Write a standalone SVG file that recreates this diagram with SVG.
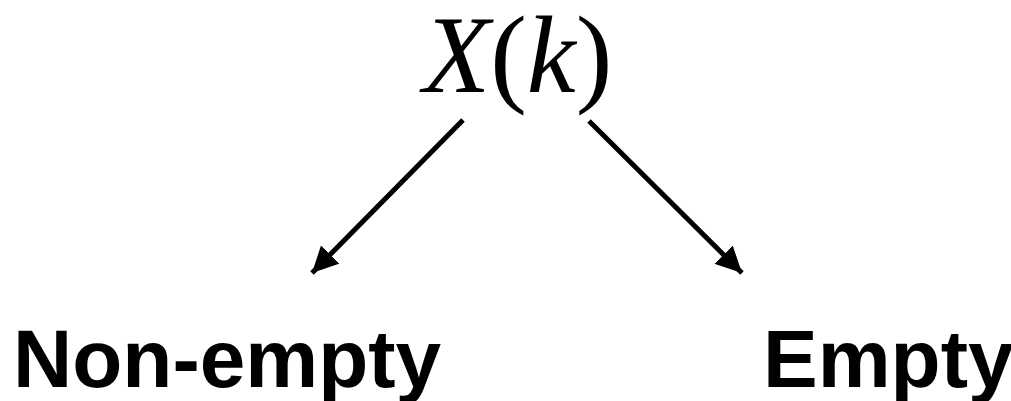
<svg xmlns="http://www.w3.org/2000/svg" width="1011" height="401" viewBox="0 0 1011 401">
<style>
.lbl{font-family:"Liberation Sans",Arial,sans-serif;font-weight:bold;font-size:82px;fill:#000}
.math{font-family:"Liberation Serif","Times New Roman",serif;font-size:110px;fill:#000}
.edge{stroke:#000;stroke-width:5;fill:none}
</style>
<defs>
<marker id="ah" viewBox="0 0 10 10" refX="10" refY="5" markerWidth="5.2" markerHeight="5.2" markerUnits="strokeWidth" orient="auto">
<path d="M0,0 L10,5 L0,10 Z" fill="#000"/>
</marker>
</defs>
<g id="root"><text class="math" x="423" y="92"><tspan font-style="italic">X</tspan>(<tspan font-style="italic">k</tspan>)</text></g>
<g id="nonempty"><text class="lbl" x="13" y="387">Non-empty</text></g>
<g id="empty"><text class="lbl" x="763" y="387">Empty</text></g>
<g id="connectors">
<line class="edge" x1="463" y1="120" x2="312" y2="273" marker-end="url(#ah)"/>
<line class="edge" x1="589" y1="121" x2="742" y2="273" marker-end="url(#ah)"/>
</g>
</svg>
